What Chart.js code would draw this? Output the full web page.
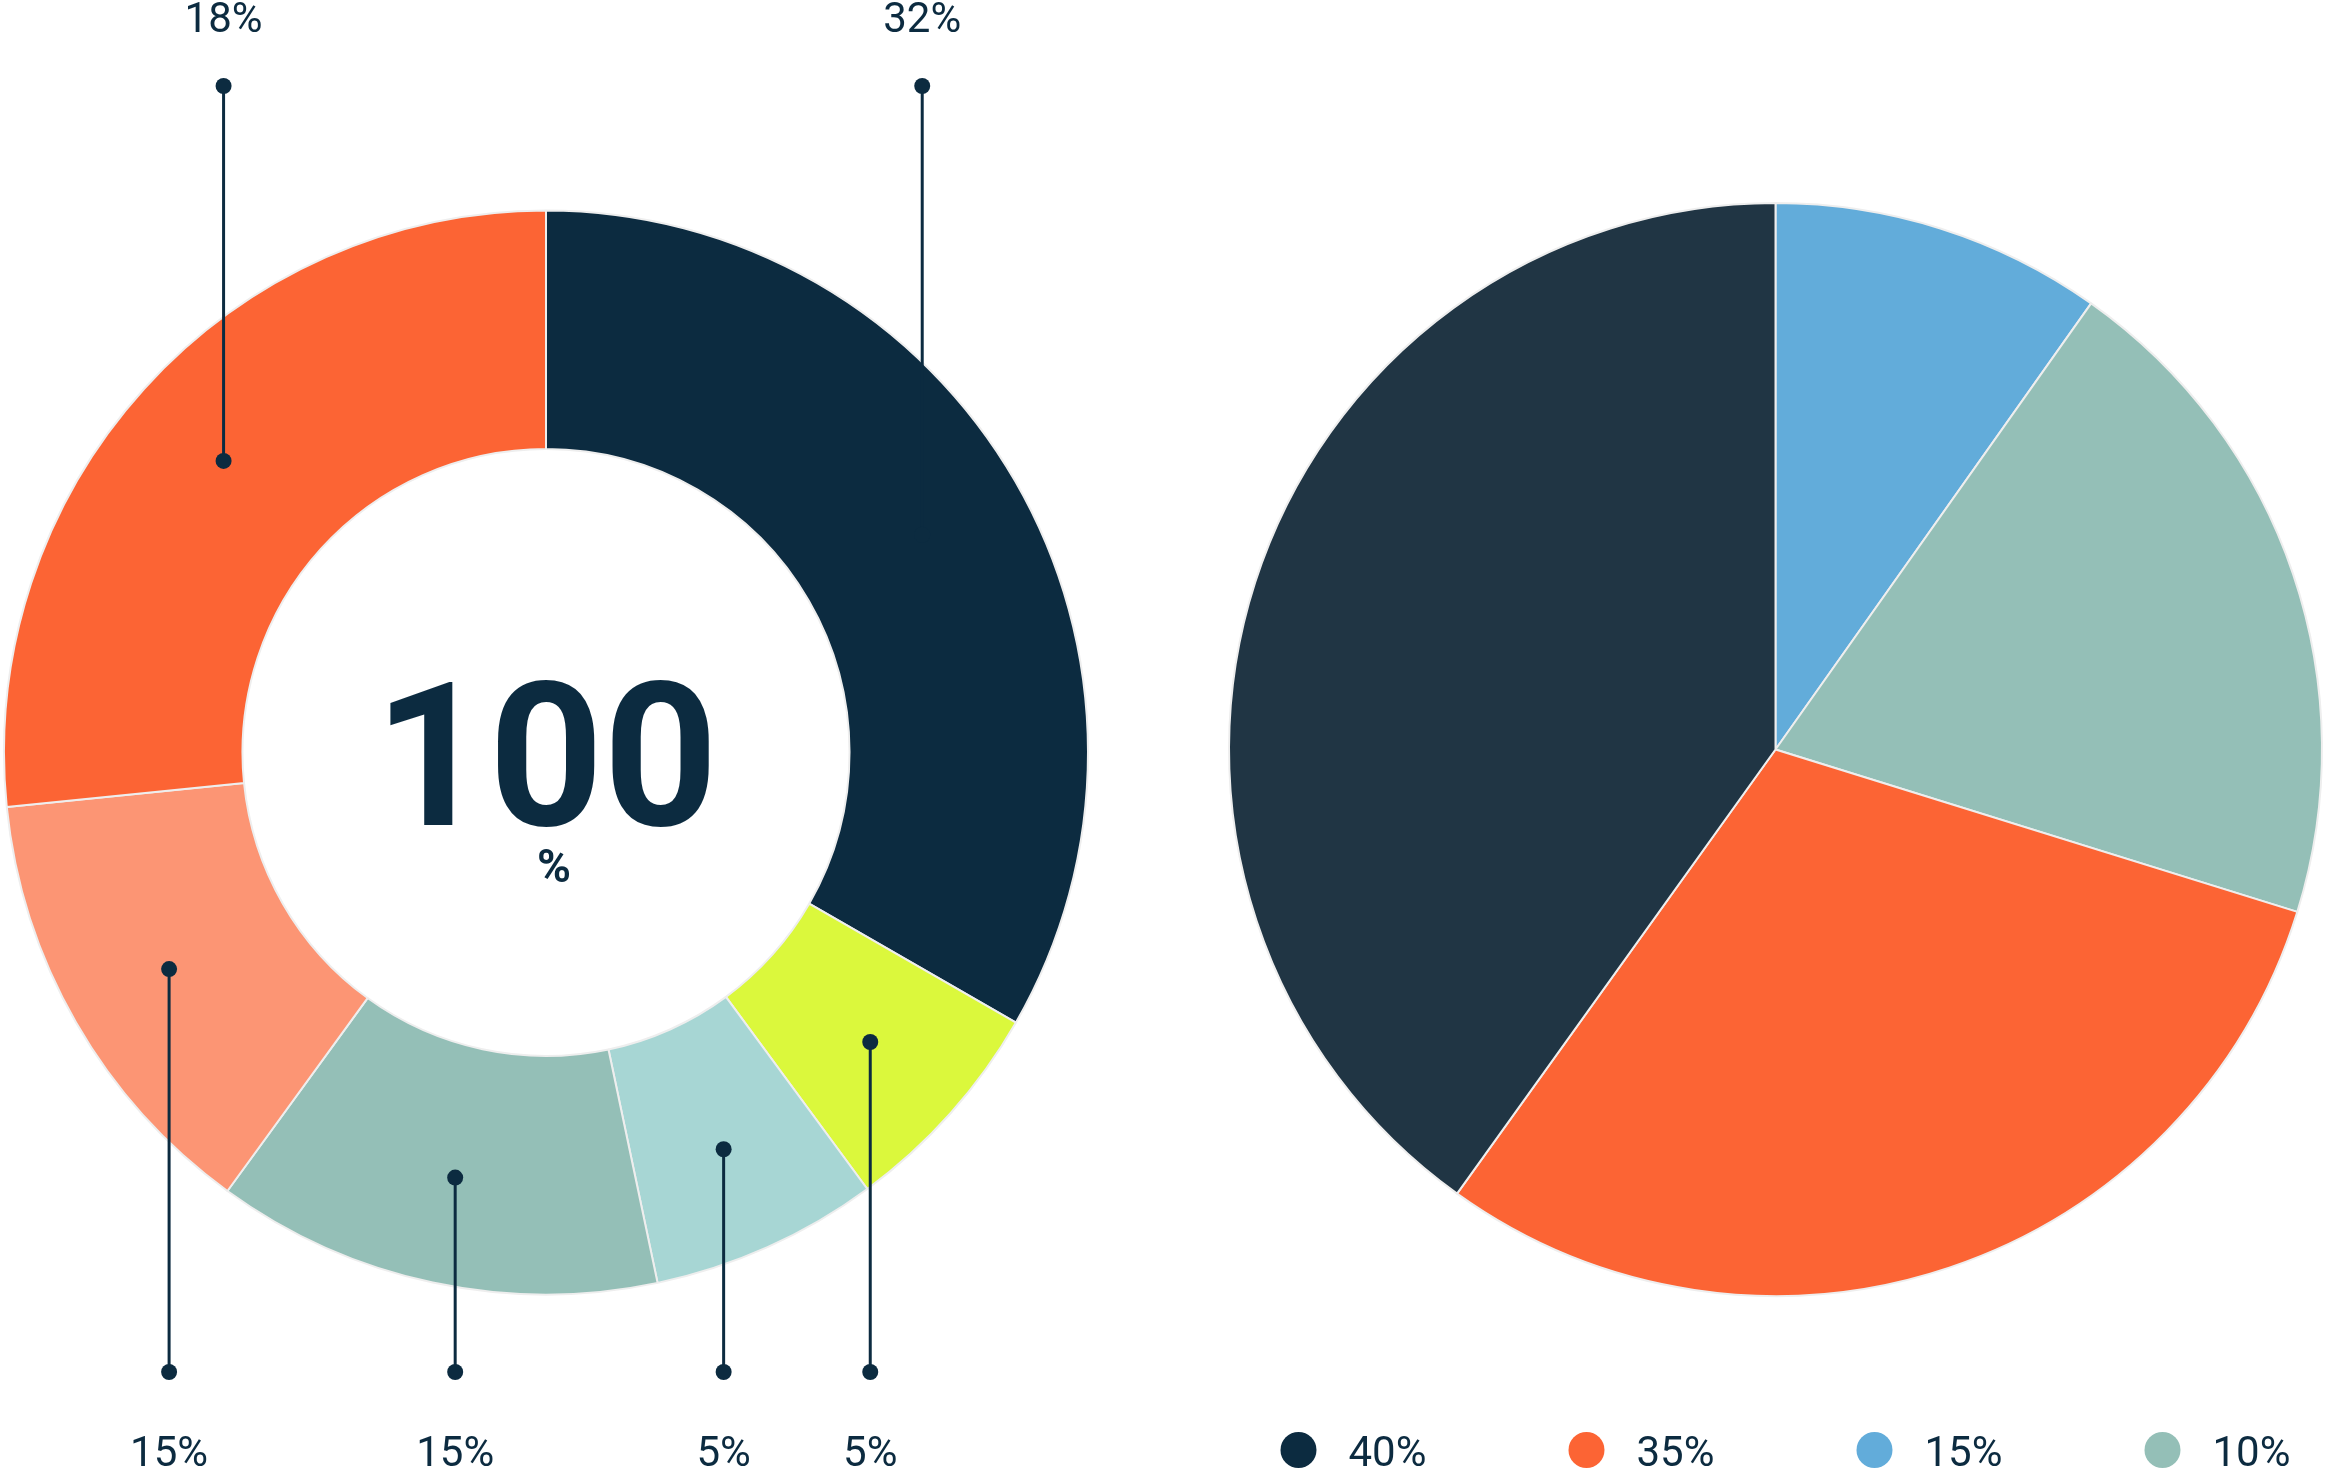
<!DOCTYPE html>
<html>
<head>
<meta charset="utf-8">
<script src="https://cdn.jsdelivr.net/npm/chart.js@4.4.1/dist/chart.umd.min.js"></script>
<style>
    body { margin: 0; background: #fff; width: 2326px; height: 1469px; overflow: hidden; position: relative; }
    #ringChart { position: absolute; left: 0; top: 0; }
    #pieChart { position: absolute; left: 1150px; top: 0; }
</style>
</head>
<body>
<canvas id="ringChart" width="1150" height="1469"></canvas>
<canvas id="pieChart" width="1176" height="1469"></canvas>
<script>
// left ring, clockwise from the top
const ringCategories = ["A", "B", "C", "D", "E", "F"];
const ringValues = [33.3, 6.6, 6.8, 13.3, 13.4, 26.6];
const ringLabels = ["32%", "5%", "5%", "15%", "15%", "18%"];
const ringColors = ["#0c2b40", "#dbf83c", "#a7d6d4", "#94bfb7", "#fc9574", "#fc6434"];
const ringTotal = "100";

// right pie, clockwise from the top
const pieCategories = ["A", "B", "C", "D"];
const pieValues = [9.8, 20, 30.1, 40.1];
const pieColors = ["#62acda", "#94bfb7", "#fc6434", "#203544"];

// legend of the pie, in its own order
const legendLabels = ["40%", "35%", "15%", "10%"];
const legendColors = ["#0c2b40", "#fc6434", "#62acda", "#94bfb7"];

const inkColor = "#0c2b40";
const labelFont = "42px Roboto";

const calloutPlugin = {
    id: "callouts",
    afterDatasetsDraw(chart, args, opts) {
        const ctx = chart.ctx;
        const arcs = chart.getDatasetMeta(0).data;
        ctx.save();
        ctx.strokeStyle = inkColor;
        ctx.fillStyle = inkColor;
        ctx.lineWidth = 3;
        ctx.font = labelFont;
        ctx.textAlign = "center";
        arcs.forEach((arc, i) => {
            const p = arc.getProps(["x", "y", "startAngle", "endAngle", "innerRadius", "outerRadius"]);
            const mid = (p.startAngle + p.endAngle) / 2;
            const r = p.innerRadius + (p.outerRadius - p.innerRadius) * 0.55;
            const x = p.x + Math.cos(mid) * r;
            const y = p.y + Math.sin(mid) * r;
            const up = y < p.y;
            const endY = up ? 86 : 1372;
            ctx.beginPath();
            ctx.moveTo(x, y);
            ctx.lineTo(x, endY);
            ctx.stroke();
            [y, endY].forEach(yy => {
                ctx.beginPath();
                ctx.arc(x, yy, 8, 0, Math.PI * 2);
                ctx.fill();
            });
            ctx.fillText(ringLabels[i], x, up ? 32 : 1466);
        });
        ctx.restore();
    }
};

const centerTextPlugin = {
    id: "centerText",
    afterDraw(chart) {
        const ctx = chart.ctx;
        const arc = chart.getDatasetMeta(0).data[0];
        ctx.save();
        ctx.fillStyle = inkColor;
        ctx.textAlign = "center";
        ctx.font = "bold 200px Roboto";
        ctx.fillText(ringTotal, arc.x, arc.y + 72);
        ctx.font = "bold 46px Roboto";
        ctx.fillText("%", arc.x + 8, arc.y + 129);
        ctx.restore();
    }
};

const dotLegendPlugin = {
    id: "dotLegend",
    afterDraw(chart) {
        const ctx = chart.ctx;
        const arc = chart.getDatasetMeta(0).data[0];
        const step = 288;
        const startX = arc.x - 477;
        ctx.save();
        ctx.font = labelFont;
        ctx.textAlign = "left";
        legendLabels.forEach((txt, i) => {
            const cx = startX + i * step;
            ctx.fillStyle = legendColors[i];
            ctx.beginPath();
            ctx.arc(cx, 1450, 18, 0, Math.PI * 2);
            ctx.fill();
            ctx.fillStyle = inkColor;
            ctx.fillText(txt, cx + 50, 1466);
        });
        ctx.restore();
    }
};

function initCharts() {
    new Chart(document.getElementById("ringChart"), {
        type: "doughnut",
        data: {
            labels: ringCategories,
            datasets: [{
                data: ringValues,
                backgroundColor: ringColors,
                borderColor: "#eeeeee",
                borderWidth: 2
            }]
        },
        options: {
            responsive: false,
            animation: false,
            events: [],
            cutout: "56%",
            layout: { padding: { left: 3, right: 61, top: 209, bottom: 173 } },
            plugins: { legend: { display: false }, tooltip: { enabled: false } }
        },
        plugins: [calloutPlugin, centerTextPlugin]
    });

    new Chart(document.getElementById("pieChart"), {
        type: "pie",
        data: {
            labels: pieCategories,
            datasets: [{
                data: pieValues,
                backgroundColor: pieColors,
                borderColor: "#eeeeee",
                borderWidth: 2
            }]
        },
        options: {
            responsive: false,
            animation: false,
            events: [],
            layout: { padding: { left: 78, right: 3, top: 201, bottom: 171 } },
            plugins: { legend: { display: false }, tooltip: { enabled: false } }
        },
        plugins: [dotLegendPlugin]
    });
}

document.addEventListener("DOMContentLoaded", function() {
    initCharts();
});
</script>
</body>
</html>
